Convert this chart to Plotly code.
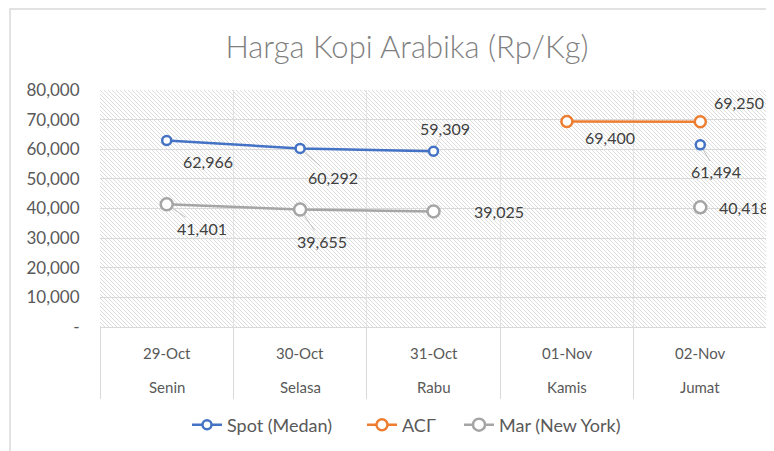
import base64
import plotly.graph_objects as go

# ---- data ----
dates = ["29-Oct", "30-Oct", "31-Oct", "01-Nov", "02-Nov"]
days = ["Senin", "Selasa", "Rabu", "Kamis", "Jumat"]
spot_medan = [62966, 60292, 59309, None, 61494]
acf = [None, None, None, 69400, 69250]
mar_ny = [41401, 39655, 39025, None, 40418]
y_tickvals = [0, 10000, 20000, 30000, 40000, 50000, 60000, 70000, 80000]
y_ticktext = ["-", "10,000", "20,000", "30,000", "40,000", "50,000", "60,000", "70,000", "80,000"]

# label offsets (px) and leader-line flag for each series' data labels
spot_off = [(41, 21, False), (33, 29, True), (11, -23, True), None, (16, 27, True)]
acf_off = [None, None, None, (43, 16, False), (39, -19, False)]
mar_off = [(35, 24, True), (22, 32, True), (65, 0, False), None, (44, 0, False)]

FONT = "Lato"
TXT = "#404040"
AX = "#595959"
GRID = "#d9d9d9"

# figure is placed with the page's 8px body margin
W, H = 766, 443
L, T, R, B = 92, 82, 7, 124
PW, PH = W - L - R, H - T - B

fig = go.Figure()

series = [
    ("Spot (Medan)", spot_medan, "#4472C4", 9, spot_off, "legend", 179),
    ("ACΓ", acf, "#ED7D31", 11, acf_off, "legend2", 354),
    ("Mar (New York)", mar_ny, "#A5A5A5", 12, mar_off, "legend3", 451),
]
annotations = []
legends = {}
for name, vals, color, msize, offs, leg, legx in series:
    fig.add_trace(go.Scatter(
        x=dates, y=vals, name=name, mode="lines+markers",
        line=dict(color=color, width=2.5),
        marker=dict(symbol="circle", size=msize, color="white",
                    line=dict(color=color, width=2.5)),
        connectgaps=False, cliponaxis=False, legend=leg,
    ))
    legends[leg] = dict(orientation="h", x=(legx - L) / PW, xanchor="left",
                        y=-(425 - 327) / PH, yanchor="middle",
                        bgcolor="rgba(0,0,0,0)",
                        font=dict(family=FONT, size=18, color=AX))
    for d, v, o in zip(dates, vals, offs):
        if v is None:
            continue
        annotations.append(dict(
            x=d, y=v, xref="x", yref="y", text=f"{v:,}",
            showarrow=True, arrowhead=0, arrowwidth=1,
            arrowcolor="#bfbfbf" if o[2] else "rgba(0,0,0,0)",
            ax=o[0], ay=o[1], standoff=6, startstandoff=0,
            font=dict(family=FONT, size=16, color=TXT),
        ))

# category labels (two levels)
for d, dy in zip(dates, days):
    annotations.append(dict(x=d, y=-26 / PH, xref="x", yref="paper", text=d,
                            showarrow=False, yanchor="middle",
                            font=dict(family=FONT, size=15, color=AX)))
    annotations.append(dict(x=d, y=-60 / PH, xref="x", yref="paper", text=dy,
                            showarrow=False, yanchor="middle",
                            font=dict(family=FONT, size=15, color=AX)))

# hatch background pattern image for the plot area
svg = (f'<svg xmlns="http://www.w3.org/2000/svg" width="{PW}" height="{PH}" '
       'preserveAspectRatio="none">'
       '<defs><pattern id="p" width="4" height="4" patternUnits="userSpaceOnUse">'
       '<path d="M-1,-1 L5,5 M-1,3 L1,5 M3,-1 L5,1" stroke="#d9d9d9" stroke-width="0.9"/>'
       '</pattern></defs><rect width="100%" height="100%" fill="url(#p)"/></svg>')
src = "data:image/svg+xml;base64," + base64.b64encode(svg.encode()).decode()

fig.update_layout(
    width=W, height=H,
    margin=dict(l=L, r=R, t=T, b=B),
    paper_bgcolor="white",
    plot_bgcolor="rgba(0,0,0,0)",
    title=dict(text="Harga Kopi Arabika (Rp/Kg)", x=399 / W, xanchor="center",
               y=1 - 39 / H, yanchor="middle",
               font=dict(family=FONT, size=31, color="#7f7f7f", weight=300)),
    showlegend=True,
    images=[dict(source=src, xref="paper", yref="paper", x=0, y=1,
                 sizex=1, sizey=1, xanchor="left", yanchor="top",
                 sizing="stretch", layer="below")],
    shapes=[dict(type="rect", xref="paper", yref="paper",
                 x0=-(L - 2) / PW, y0=-1.0, x1=1.2, y1=1 + (T - 1) / PH,
                 line=dict(color="#d9d9d9", width=1.5), layer="below")],
    annotations=annotations,
    **legends,
)
fig.update_xaxes(
    type="category", categoryorder="array", categoryarray=dates,
    range=[-0.5, 4.5], tickson="boundaries",
    showgrid=True, gridcolor="#e3e3e3", gridwidth=1,
    showline=True, linecolor=GRID, linewidth=1,
    ticks="outside", ticklen=71, tickcolor=GRID, tickwidth=1,
    showticklabels=False, zeroline=False,
)
fig.update_yaxes(
    range=[0, 80000], tickvals=y_tickvals, ticktext=y_ticktext,
    showgrid=True, gridcolor=GRID, gridwidth=1, zeroline=False,
    showline=False, ticks="outside", ticklen=16, tickcolor="rgba(0,0,0,0)",
    tickfont=dict(family=FONT, size=17, color=AX),
)

fig.write_html("out.html")
